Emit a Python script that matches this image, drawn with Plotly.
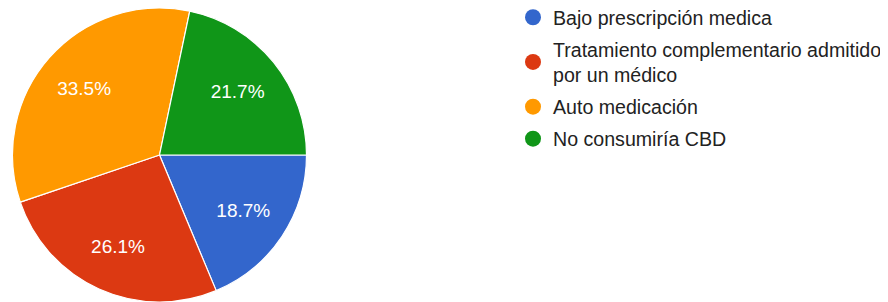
import plotly.graph_objects as go

categories = ["Bajo prescripción medica",
              "Tratamiento complementario admitido<br>por un médico",
              "Auto medicación",
              "No consumiría CBD"]
values = [18.7, 26.1, 33.5, 21.7]
colors = ["#3366cc", "#dc3912", "#ff9900", "#109618"]

# page body has an 8px margin; figure is made a little larger than the
# visible window so that the legend is never squeezed or clipped
W, H = 900, 340
PIE_H = 294

fig = go.Figure()
dom = dict(x=[4 / W, 299 / W], y=[1 - PIE_H / H, 1])
# coloured pie
fig.add_trace(go.Pie(
    labels=categories, values=values, sort=False, direction="clockwise",
    rotation=90, marker=dict(colors=colors, line=dict(color="white", width=1.2)),
    textinfo="none", showlegend=False, hoverinfo="label+percent", domain=dom,
))
# transparent ring that carries the percentage labels
fig.add_trace(go.Pie(
    labels=categories, values=values, sort=False, direction="clockwise",
    rotation=90, hole=0.37,
    marker=dict(colors=["rgba(0,0,0,0)"] * len(values), line=dict(width=0)),
    texttemplate="%{percent:.1%}", textposition="inside",
    insidetextorientation="horizontal",
    textfont=dict(family="Arial, Liberation Sans", size=19, color="white"),
    showlegend=False, hoverinfo="skip", domain=dom,
))
for i, (c, col) in enumerate(zip(categories, colors)):
    fig.add_trace(go.Scatter(
        x=[None], y=[None], mode="markers", name=c, legendgroup=f"g{i}",
        marker=dict(symbol="circle", size=18, color=col), showlegend=True,
    ))

fig.update_layout(
    width=W, height=H, margin=dict(l=0, r=0, t=0, b=0, autoexpand=False),
    paper_bgcolor="white", plot_bgcolor="white",
    xaxis=dict(visible=False), yaxis=dict(visible=False),
    legend=dict(x=505 / W, y=1 + 10 / H, xanchor="left", yanchor="top",
                font=dict(family="Arial, Liberation Sans", size=19.6, color="#222222"),
                tracegroupgap=3.5, itemsizing="trace", bgcolor="rgba(0,0,0,0)"),
)
fig.write_html("out.html")
